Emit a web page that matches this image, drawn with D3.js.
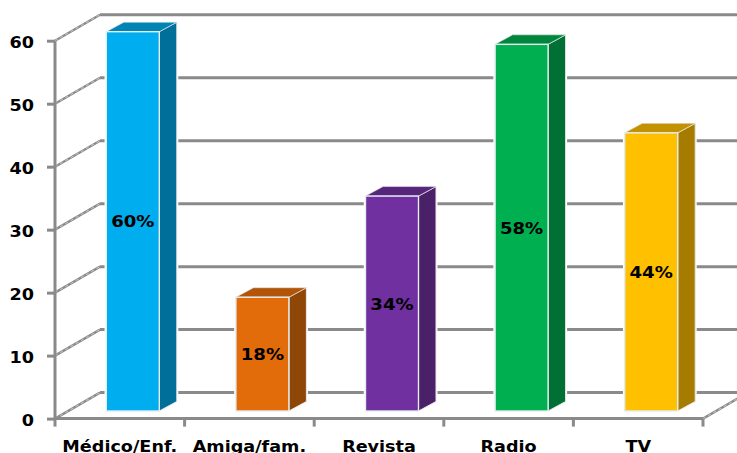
<!DOCTYPE html>
<html><head><meta charset="utf-8">
<style>html,body{margin:0;padding:0;background:#fff;overflow:hidden}svg{display:block}text{font-family:"DejaVu Sans",sans-serif;font-weight:bold;fill:#000}</style>
<script src="https://cdnjs.cloudflare.com/ajax/libs/d3/7.8.5/d3.min.js"></script>
</head><body><script>
const categories=["Médico/Enf.","Amiga/fam.","Revista","Radio","TV"];
const values=[60,18,34,58,44];
const labels=["60%","18%","34%","58%","44%"];
const frontColors=["#00AEEF","#E36C0A","#7030A0","#00B050","#FFC000"];
const topColors=["#0084B4","#B35508","#56267C","#00853D","#C29200"];
const sideColors=["#00709A","#8F4708","#4A2069","#007034","#A67C00"];
const yTicks=[0,10,20,30,40,50,60];
const W=737,H=453;
const svg=d3.select("body").append("svg").attr("width",W).attr("height",H);
const x=d3.scaleBand().domain(categories).range([55,703]);
const y=d3.scaleLinear().domain([0,60]).range([418.6,40.7]);
const yBar=d3.scaleLinear().domain([0,60]).range([411,31.7]);
const wallDx=45,wallDy=-26,barW=53,barOffX=13,depX=17.5,depY=-9.5;
const gray="#8a8a8a";
const stretch=(sel,k)=>sel.each(function(){this.setAttribute("textLength",this.getComputedTextLength()*k);this.setAttribute("lengthAdjust","spacingAndGlyphs");});
// back wall grid
svg.selectAll(".grid").data(yTicks).join("line")
  .attr("x1",55+wallDx).attr("x2",W).attr("y1",d=>y(d)+wallDy).attr("y2",d=>y(d)+wallDy)
  .attr("stroke",gray).attr("stroke-width",3);
// side wall diagonals
svg.selectAll(".diag").data(yTicks).join("line")
  .attr("x1",55).attr("x2",55+wallDx).attr("y1",d=>y(d)).attr("y2",d=>y(d)+wallDy)
  .attr("stroke",gray).attr("stroke-width",2.4);
svg.selectAll(".diag2").data(yTicks).join("line")
  .attr("x1",55).attr("x2",55+wallDx).attr("y1",d=>y(d)).attr("y2",d=>y(d)+wallDy)
  .attr("stroke","#e6e6e6").attr("stroke-width",.7).attr("stroke-dasharray","3 3");
// floor right edge
svg.append("line").attr("x1",703).attr("y1",y(0)).attr("x2",703+wallDx).attr("y2",y(0)+wallDy)
  .attr("stroke",gray).attr("stroke-width",2.4);
svg.append("line").attr("x1",703).attr("y1",y(0)).attr("x2",703+wallDx).attr("y2",y(0)+wallDy)
  .attr("stroke","#e6e6e6").attr("stroke-width",.7).attr("stroke-dasharray","3 3");
// bars
const bars=svg.selectAll(".bar").data(categories).join("g").attr("class","bar");
const bx=c=>x(c)+x.bandwidth()/2-barW/2+barOffX;
const base=yBar(0);
const sidePath=(c,i)=>{const r=bx(c)+barW,t=yBar(values[i]);return `M${r},${t}L${r+depX},${t+depY}L${r+depX},${base+depY}L${r},${base}Z`;};
// white halo that breaks the grid lines around each bar
bars.append("path").attr("d",sidePath).attr("fill","#fff").attr("stroke","#fff").attr("stroke-width",3);
bars.append("rect").attr("x",c=>bx(c)).attr("width",barW)
  .attr("y",(c,i)=>yBar(values[i])).attr("height",(c,i)=>base-yBar(values[i]))
  .attr("fill","#fff").attr("stroke","#fff").attr("stroke-width",3.5);
bars.append("path").attr("fill",(c,i)=>sideColors[i]).attr("stroke","#e8e8e8").attr("stroke-width",1).attr("d",sidePath);
bars.append("path").attr("fill",(c,i)=>topColors[i]).attr("stroke","#e8e8e8").attr("stroke-width",.6)
  .attr("d",(c,i)=>{const l=bx(c),t=yBar(values[i]);return `M${l},${t}L${l+depX},${t+depY}L${l+barW+depX},${t+depY}L${l+barW},${t}Z`;});
bars.append("rect").attr("x",c=>bx(c)).attr("width",barW)
  .attr("y",(c,i)=>yBar(values[i])).attr("height",(c,i)=>base-yBar(values[i]))
  .attr("fill",(c,i)=>frontColors[i]).attr("stroke","#e4eef2").attr("stroke-width",1.4);
bars.append("text").attr("x",c=>bx(c)+barW/2).attr("y",(c,i)=>(yBar(values[i])+base)/2+6)
  .attr("text-anchor","middle").attr("font-size",16).text((c,i)=>labels[i]).call(stretch,1.13);
// axes
const axY=svg.append("g").attr("transform","translate(55,0)").call(d3.axisLeft(y).tickValues(yTicks).tickSize(8).tickPadding(13).tickFormat(d3.format("d")));
const axX=svg.append("g").attr("transform",`translate(0,${y(0)})`).call(d3.axisBottom(x).tickSize(0).tickPadding(22));
[axY,axX].forEach(a=>{a.selectAll("path").attr("stroke",gray).attr("stroke-width",3);a.selectAll("line").attr("stroke",gray).attr("stroke-width",3);a.selectAll("text").attr("font-size",16).attr("font-family",'"DejaVu Sans",sans-serif').attr("font-weight","bold").call(stretch,1.1);});
axY.select("path").attr("d",`M0,${y(0)}V${y(60)}`);
axY.selectAll("text").attr("dy","0.42em");
axX.select("path").attr("d",`M55,0H703`);
axX.selectAll(".boundary").data(d3.range(categories.length+1)).join("line")
  .attr("x1",i=>x.range()[0]+i*x.step()).attr("x2",i=>x.range()[0]+i*x.step())
  .attr("y1",0).attr("y2",8).attr("stroke",gray).attr("stroke-width",3);
</script></body></html>
